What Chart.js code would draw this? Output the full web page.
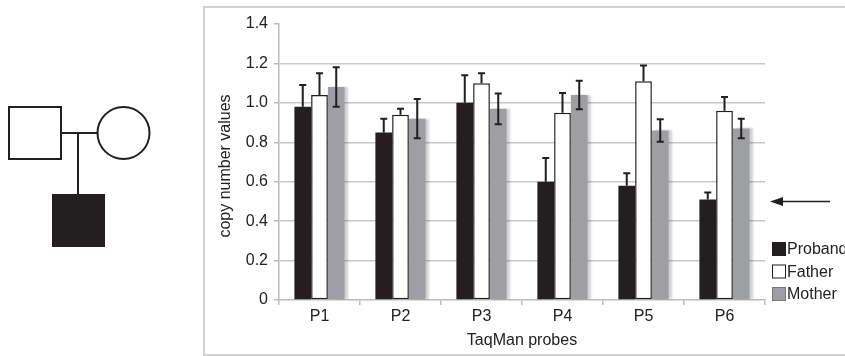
<!DOCTYPE html>
<html>
<head>
<meta charset="utf-8">
<script src="https://cdn.jsdelivr.net/npm/chart.js@4.4.1/dist/chart.umd.min.js"></script>
<style>
  html, body { margin: 0; padding: 0; background: #fff; }
  .chart-wrapper { position: relative; width: 845px; height: 356px; }
</style>
</head>
<body>
<div class="chart-wrapper">
  <canvas id="chart"></canvas>
</div>
<script>
// data
const probes = ['P1', 'P2', 'P3', 'P4', 'P5', 'P6'];
const proband = [0.98, 0.85, 1.00, 0.60, 0.58, 0.51];
const father = [1.04, 0.94, 1.10, 0.95, 1.11, 0.96];
const mother = [1.08, 0.92, 0.97, 1.04, 0.86, 0.87];
const probandErr = [0.11, 0.07, 0.14, 0.12, 0.063, 0.035];
const fatherErr = [0.11, 0.03, 0.05, 0.10, 0.08, 0.07];
const motherErr = [0.10, 0.10, 0.078, 0.072, 0.057, 0.05];
const yTicks = [0, 0.2, 0.4, 0.6, 0.8, 1.0, 1.2, 1.4];
const arrowValue = 0.5;

const FONT = '"Liberation Sans", Arial, sans-serif';
const INK = '#231f20';

// frame, pedigree, y title, legend and arrow
const decorations = {
  id: 'decorations',
  beforeDraw(chart) {
    const ctx = chart.ctx;
    ctx.save();
    ctx.strokeStyle = '#d2d2d2';
    ctx.lineWidth = 2;
    ctx.strokeRect(204, 7, 700, 348);
    ctx.restore();
  },
  afterDraw(chart) {
    const ctx = chart.ctx;
    const y = chart.scales.y;
    ctx.save();

    // pedigree
    ctx.strokeStyle = INK;
    ctx.lineWidth = 2;
    ctx.strokeRect(9, 107, 52, 52);
    ctx.beginPath();
    ctx.arc(123.5, 133, 26, 0, Math.PI * 2);
    ctx.stroke();
    ctx.beginPath();
    ctx.moveTo(61, 133); ctx.lineTo(97.5, 133);
    ctx.moveTo(78, 133); ctx.lineTo(78, 194);
    ctx.stroke();
    ctx.fillStyle = INK;
    ctx.fillRect(52, 194, 53, 53);

    // y axis title
    ctx.fillStyle = '#222';
    ctx.font = '16px ' + FONT;
    ctx.textAlign = 'center';
    ctx.textBaseline = 'alphabetic';
    ctx.translate(230, 166);
    ctx.rotate(-Math.PI / 2);
    ctx.fillText('copy number values', 0, 0);
    ctx.setTransform(1, 0, 0, 1, 0, 0);

    // legend
    ctx.textAlign = 'left';
    ctx.textBaseline = 'middle';
    ctx.font = '16px ' + FONT;
    chart.data.datasets.forEach((ds, i) => {
      const cy = 249 + i * 22.5;
      ctx.fillStyle = ds.backgroundColor;
      ctx.fillRect(772, cy - 7, 14, 14);
      ctx.strokeStyle = i === 2 ? '#777' : INK;
      ctx.lineWidth = 1;
      ctx.strokeRect(772.5, cy - 6.5, 13, 13);
      ctx.fillStyle = '#222';
      ctx.fillText(ds.label, 787, cy + 1);
    });

    // arrow at the deletion level
    const ay = y.getPixelForValue(arrowValue);
    ctx.strokeStyle = INK;
    ctx.lineWidth = 1.5;
    ctx.beginPath();
    ctx.moveTo(830, ay); ctx.lineTo(780, ay);
    ctx.stroke();
    ctx.fillStyle = INK;
    ctx.beginPath();
    ctx.moveTo(770, ay); ctx.lineTo(783, ay - 4.5); ctx.lineTo(783, ay + 4.5);
    ctx.closePath();
    ctx.fill();
    ctx.restore();
  }
};

// light shadow to the right of the mother bars
const barShadow = {
  id: 'barShadow',
  beforeDatasetDraw(chart, args) {
    if (args.index !== 2) return;
    const ctx = chart.ctx;
    ctx.save();
    ctx.shadowColor = 'rgba(0,0,0,0.18)';
    ctx.shadowOffsetX = 3;
    ctx.shadowOffsetY = 0;
    ctx.shadowBlur = 2;
  },
  afterDatasetDraw(chart, args) {
    if (args.index !== 2) return;
    chart.ctx.restore();
  }
};

const errorBars = {
  id: 'errorBars',
  afterDatasetsDraw(chart) {
    const ctx = chart.ctx;
    const y = chart.scales.y;
    ctx.save();
    ctx.strokeStyle = INK;
    ctx.lineWidth = 2;
    chart.data.datasets.forEach((ds, i) => {
      const meta = chart.getDatasetMeta(i);
      meta.data.forEach((bar, j) => {
        const v = ds.data[j];
        const e = ds.errors[j];
        const top = y.getPixelForValue(v + e);
        const bottom = ds.lowerError ? y.getPixelForValue(v - e) : bar.y;
        ctx.beginPath();
        ctx.moveTo(bar.x, top); ctx.lineTo(bar.x, bottom);
        ctx.moveTo(bar.x - 3.5, top); ctx.lineTo(bar.x + 3.5, top);
        if (ds.lowerError) {
          ctx.moveTo(bar.x - 3.5, bottom); ctx.lineTo(bar.x + 3.5, bottom);
        }
        ctx.stroke();
      });
    });
    ctx.restore();
  }
};

const ctx = document.getElementById('chart').getContext('2d');
new Chart(ctx, {
  type: 'bar',
  data: {
    labels: probes,
    datasets: [
      {
        label: 'Proband',
        data: proband,
        errors: probandErr,
        lowerError: false,
        backgroundColor: INK,
        borderWidth: 0
      },
      {
        label: 'Father',
        data: father,
        errors: fatherErr,
        lowerError: false,
        backgroundColor: '#ffffff',
        borderColor: INK,
        borderWidth: 1.5,
        borderSkipped: false
      },
      {
        label: 'Mother',
        data: mother,
        errors: motherErr,
        lowerError: true,
        backgroundColor: '#9e9fa2',
        borderWidth: 0
      }
    ]
  },
  options: {
    responsive: true,
    maintainAspectRatio: false,
    animation: false,
    events: [],
    layout: {
      padding: { left: 205, right: 80, top: 24, bottom: 0 }
    },
    datasets: {
      bar: {
        categoryPercentage: 0.62,
        barPercentage: 1.0
      }
    },
    scales: {
      x: {
        afterFit: (scale) => { scale.height = 56; },
        grid: {
          display: true,
          drawOnChartArea: false,
          drawTicks: true,
          tickLength: 5,
          color: '#bbbbbb',
          lineWidth: 1.5,
          offset: true
        },
        border: { display: true, color: '#bbbbbb', width: 1.5 },
        ticks: {
          color: '#222',
          padding: 2,
          font: { family: FONT, size: 16 }
        },
        title: {
          display: true,
          text: 'TaqMan probes',
          color: '#222',
          padding: { top: 0, bottom: 6 },
          font: { family: FONT, size: 16 }
        }
      },
      y: {
        min: 0,
        max: 1.4,
        afterFit: (scale) => { scale.width = 74; },
        afterBuildTicks: (scale) => {
          scale.ticks = yTicks.map(v => ({ value: v }));
        },
        grid: {
          color: (c) => (c.tick && (c.tick.value >= 1.39 || c.tick.value === 0)) ? 'rgba(0,0,0,0)' : '#c8c8c8',
          tickColor: '#bbbbbb',
          lineWidth: 1.5,
          tickLength: 5
        },
        border: { display: true, color: '#bbbbbb', width: 1.5 },
        ticks: {
          color: '#222',
          padding: 6,
          font: { family: FONT, size: 16 },
          callback: (v) => v === 0 ? '0' : Number(v).toFixed(1)
        }
      }
    },
    plugins: {
      legend: { display: false },
      tooltip: { enabled: false }
    }
  },
  plugins: [decorations, barShadow, errorBars]
});
</script>
</body>
</html>
